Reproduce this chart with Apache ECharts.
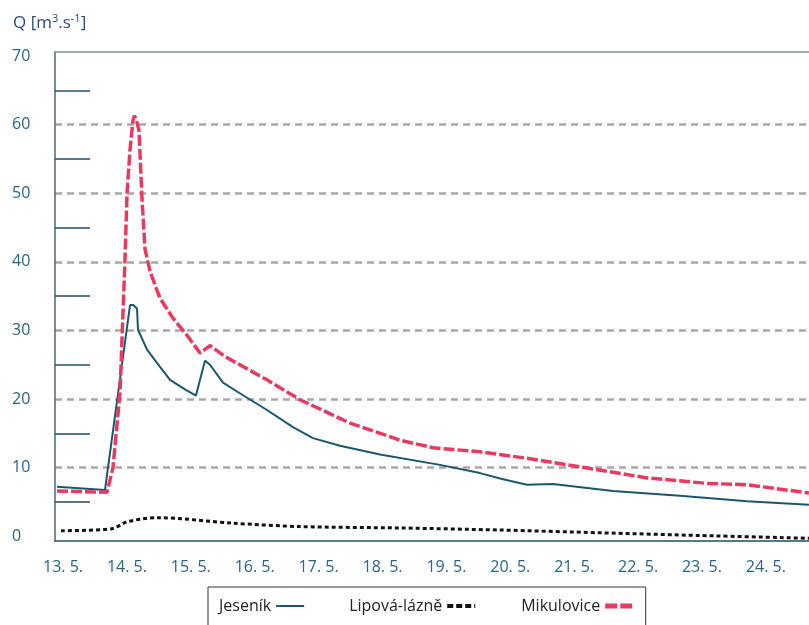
<!DOCTYPE html>
<html>
<head>
<meta charset="utf-8">
<script src="https://cdn.jsdelivr.net/npm/echarts@6/dist/echarts.min.js"></script>
<style>html,body{margin:0;padding:0;background:#fff}#c{width:809px;height:625px}</style>
</head>
<body>
<div id="c"></div>
<script>
// x values are days of May (13 = 13. 5.)
const dayTicks = [13, 14, 15, 16, 17, 18, 19, 20, 21, 22, 23, 24];
const yLabelValues = [0, 10, 20, 30, 40, 50, 60, 70];
const yMinorTicks = [5, 15, 25, 35, 45, 55, 65];
const yGridValues = [10, 20, 30, 40, 50, 60];

const jesenikDays = [12.906, 13.657, 14.049, 14.10, 14.158, 14.174, 14.315, 14.518, 14.675, 14.909, 15.081, 15.222, 15.300, 15.504, 15.723, 16.192, 16.599, 16.912, 17.335, 17.961, 18.900, 19.526, 19.839, 20.261, 20.668, 21.607, 22.656, 23.704, 24.674];
const jesenikQ    = [7.2, 6.75, 33.7, 33.7, 33.2, 30.1, 27.2, 24.7, 22.8, 21.4, 20.5, 25.6, 25.0, 22.4, 21.1, 18.4, 15.9, 14.3, 13.2, 11.9, 10.4, 9.2, 8.4, 7.5, 7.6, 6.6, 5.9, 5.1, 4.6];

const lipovaDays = [12.969, 13.767, 14.002, 14.471, 15.660, 16.709, 18.274, 19.839, 21.404, 22.969, 24.674];
const lipovaQ    = [0.8, 1.1, 2.1, 2.7, 1.9, 1.4, 1.2, 0.9, 0.5, 0.1, -0.3];

const mikulDays = [12.906, 13.689, 13.782, 13.892, 13.970, 14.002, 14.049, 14.095, 14.119, 14.145, 14.189, 14.236, 14.283, 14.362, 14.518, 14.721, 14.941, 15.144, 15.300, 15.535, 16.192, 16.709, 17.491, 18.274, 18.790, 19.526, 20.308, 21.091, 22.139, 23.078, 23.704, 24.674];
const mikulQ    = [6.6, 6.4, 10.0, 20.9, 40.3, 50.0, 56.4, 60.6, 61.3, 60.8, 59.2, 49.3, 41.9, 38.6, 34.7, 31.8, 29.3, 26.7, 27.8, 26.2, 22.8, 19.9, 16.5, 14.0, 12.9, 12.3, 11.3, 10.1, 8.5, 7.7, 7.5, 6.3];

const zip = (xs, ys) => xs.map((x, i) => [x, ys[i]]);

const chart = echarts.init(document.getElementById('c'), null, {renderer: 'canvas'});
const FONT = 'Open Sans';
chart.setOption({
  animation: false,
  title: {
    text: '{a|Q [m}{s|3}{a|.s}{s|-1}{a|]}',
    left: 8, top: 6,
    textStyle: {
      fontWeight: 'normal',
      rich: {
        a: {fontFamily: FONT, fontSize: 17, fontWeight: 'normal', color: '#2b4a80', lineHeight: 24},
        s: {fontFamily: FONT, fontSize: 11, fontWeight: 'normal', color: '#2b4a80', padding: [0, 0, 9, 0], lineHeight: 24}
      }
    }
  },
  grid: {left: 55, right: 0, top: 52, bottom: 84, containLabel: false},
  xAxis: [{
    type: 'value', min: 12.8748, max: 24.675, position: 'bottom',
    axisLine: {show: true, onZero: false, lineStyle: {color: '#1d4e6b', width: 1.5}},
    axisTick: {show: false, customValues: dayTicks},
    splitLine: {show: false},
    axisLabel: {customValues: dayTicks, formatter: v => v + '. 5.', color: '#2a6585', fontFamily: FONT, fontSize: 16, margin: 18}
  }, {
    type: 'value', min: 12.8748, max: 24.675, position: 'top',
    axisLine: {show: true, onZero: false, lineStyle: {color: '#7a93a8', width: 1.5}},
    axisTick: {show: false}, axisLabel: {show: false}, splitLine: {show: false}
  }],
  yAxis: [{
    type: 'value', min: -0.7, max: 70.6, position: 'left',
    axisLine: {show: true, onZero: false, lineStyle: {color: '#3c6a8a', width: 1.5}},
    axisTick: {show: true, inside: true, length: 35, customValues: yMinorTicks, lineStyle: {color: '#1d4e6b', width: 1.5}},
    axisLabel: {customValues: yLabelValues, align: 'left', margin: 43, color: '#2a6585', fontFamily: FONT, fontSize: 16},
    splitLine: {show: false}
  }, {
    type: 'value', min: -0.7, max: 70.6, position: 'left',
    axisLine: {show: false},
    axisTick: {show: false, customValues: yGridValues},
    axisLabel: {show: false},
    splitLine: {show: true, lineStyle: {color: '#a8a8a8', width: 2.5, type: [7, 5]}}
  }],
  legend: {
    left: 208, top: 587,
    align: 'right',
    borderColor: '#333', borderWidth: 1,
    padding: [11, 10, 20, 11],
    itemGap: 44, itemWidth: 28, itemHeight: 14,
    itemStyle: {opacity: 0},
    textStyle: {fontFamily: FONT, fontSize: 16, color: '#222'},
    data: [
      {name: 'Jeseník', lineStyle: {width: 2}},
      {name: 'Lipová-lázně', lineStyle: {width: 4, type: [6, 3]}},
      {name: 'Mikulovice', lineStyle: {width: 5, type: [12, 3]}}
    ]
  },
  series: [{
    name: 'Jeseník', type: 'line', data: zip(jesenikDays, jesenikQ),
    symbol: 'none', smooth: false,
    lineStyle: {color: '#1b5670', width: 2}, itemStyle: {color: '#1b5670'}, z: 3
  }, {
    name: 'Lipová-lázně', type: 'line', data: zip(lipovaDays, lipovaQ),
    symbol: 'none', smooth: 0.3,
    lineStyle: {color: '#111', width: 3, type: [4, 3]}, itemStyle: {color: '#111'}, z: 3
  }, {
    name: 'Mikulovice', type: 'line', data: zip(mikulDays, mikulQ),
    symbol: 'none', smooth: false,
    lineStyle: {color: '#e83a5f', width: 3.5, type: [11, 3]}, itemStyle: {color: '#e83a5f'}, z: 4
  }]
});
</script>
</body>
</html>
